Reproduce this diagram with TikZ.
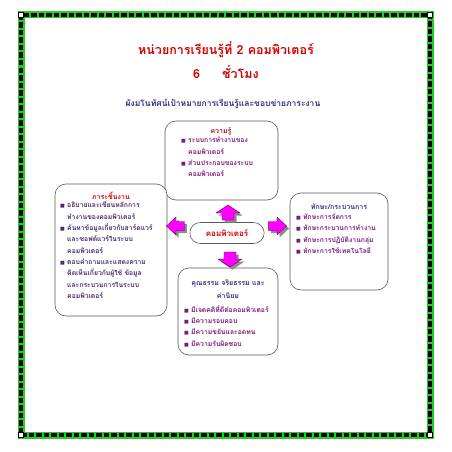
\documentclass[tikz,border=0pt]{standalone}
\usepackage{fontspec}
\usetikzlibrary{shapes.misc}
\newfontfamily\thai[Script=Thai]{Loma}
\newfontfamily\dejavu{DejaVu Sans}
\definecolor{titlered}{HTML}{D40000}
\definecolor{navy}{HTML}{2E2E80}
\definecolor{headred}{HTML}{B0102A}
\definecolor{itempurple}{HTML}{7A1A7A}
\definecolor{itemnavy}{HTML}{4A2A6A}
\definecolor{framegreen}{HTML}{22D022}
\definecolor{arrowmag}{HTML}{FF00FF}
\newcommand\bul{\makebox[7pt][l]{{\dejavu\fontsize{5}{5}\selectfont\char"25A0}}}
\newcommand\cnt{\hspace*{7pt}}
\newcommand\blockarrow{(0,-8) -- (12,0) -- (6,0) -- (6,7) -- (-6,7) -- (-6,0) -- (-12,0) -- cycle}
\tikzset{
  boxshape/.style={draw=black!65, line width=0.6pt, rounded corners=11pt, fill=white},
  boxhead/.style={font=\thai\bfseries\fontsize{7}{8}\selectfont, anchor=center},
  boxtext/.style={font=\thai\bfseries\fontsize{6.8}{11.3}\selectfont, align=left, anchor=north west, inner sep=0pt},
  arrowbody/.style={fill=arrowmag, draw=violet!60!black, line width=0.3pt, line join=miter},
  arrowshade/.style={fill=black!45},
}
\begin{document}
\begin{tikzpicture}[x=1pt,y=-1pt]
\useasboundingbox (0,0) rectangle (452,452);
% frame
\coordinate (fa) at (21,15);
\coordinate (fb) at (430,435);
\draw[framegreen, line width=7pt] (fa) rectangle (fb);
\draw[black, line width=4pt, dash pattern=on 5.5pt off 2pt] (fa) rectangle (fb);
\foreach \c/\n in {(21,15)/k1,(430,15)/k2,(21,435)/k3,(430,435)/k4}
  \node[draw=black, fill=white, line width=1pt, minimum size=5pt, inner sep=0pt] (\n) at \c {};
% titles
\node[font=\thai\bfseries\fontsize{12.5}{14}\selectfont, text=titlered] (t1) at (226,50) {หน่วยการเรียนรู้ที่ 2 คอมพิวเตอร์};
\node[font=\thai\bfseries\fontsize{12.5}{14}\selectfont, text=titlered] (t2) at (226,72) {6\hspace{22pt}ชั่วโมง};
\node[font=\thai\bfseries\fontsize{8.5}{10}\selectfont, text=navy] (t3) at (223,104) {ผังมโนทัศน์เป้าหมายการเรียนรู้และขอบข่ายภาระงาน};
% boxes
\draw[boxshape] (165,121) rectangle (278,200);
\node[boxhead, text=headred] (h1) at (221,131) {ความรู้};
\node[boxtext, text=itempurple] (c1) at (181,137) {\bul ระบบการทำงานของ\\ \cnt คอมพิวเตอร์\\ \bul ส่วนประกอบของระบบ\\ \cnt คอมพิวเตอร์};

\draw[boxshape] (55,184) rectangle (167,316);
\node[boxhead, text=titlered] (h2) at (111,196) {ภาระชิ้นงาน};
\node[boxtext, text=itemnavy] (c2) at (60,202) {\bul อธิบายและเขียนหลักการ\\ \cnt ทำงานของคอมพิวเตอร์\\ \bul ค้นหาข้อมูลเกี่ยวกับฮาร์ดแวร์\\ \cnt และซอฟต์แวร์ในระบบ\\ \cnt คอมพิวเตอร์\\ \bul ตอบคำถามและแสดงความ\\ \cnt คิดเห็นเกี่ยวกับผู้ใช้ ข้อมูล\\ \cnt และกระบวนการในระบบ\\ \cnt คอมพิวเตอร์};

\draw[boxshape] (290,193) rectangle (388,290);
\node[boxhead, text=navy] (h3) at (339,207) {ทักษะ/กระบวนการ};
\node[boxtext, text=itempurple] (c3) at (296,214) {\bul ทักษะการจัดการ\\ \bul ทักษะกระบวนการทำงาน\\ \bul ทักษะการปฏิบัติงานกลุ่ม\\ \bul ทักษะการใช้เทคโนโลยี};

\draw[boxshape] (178,268) rectangle (278,355);
\node[boxhead, text=navy, align=center, font=\thai\bfseries\fontsize{7}{12.5}\selectfont] (h4) at (228,289) {คุณธรรม จริยธรรม และ\\ ค่านิยม};
\node[boxtext, text=itempurple] (c4) at (184,305) {\bul มีเจตคติที่ดีต่อคอมพิวเตอร์\\ \bul มีความรอบคอบ\\ \bul มีความขยันและอดทน\\ \bul มีความรับผิดชอบ};
% centre
\node[rounded rectangle, draw=black!65, line width=0.6pt, minimum width=81pt, minimum height=21pt,
  font=\thai\bfseries\fontsize{8}{9}\selectfont, text=titlered] (cc) at (227,233) {คอมพิวเตอร์};
% block arrows (shadow, then body)
\foreach \x/\y/\r/\sx/\sy in {228/213/0/1/1, 176/226/90/0.75/1.2, 277/226/-90/0.75/1.2, 230/259/180/1/1}{
  \fill[arrowshade, shift={(\x+2.5,\y+2.5)}, rotate=\r, xscale=\sx, yscale=\sy] \blockarrow;
  \draw[arrowbody, shift={(\x,\y)}, rotate=\r, xscale=\sx, yscale=\sy] \blockarrow;
}
\end{tikzpicture}
\end{document}
